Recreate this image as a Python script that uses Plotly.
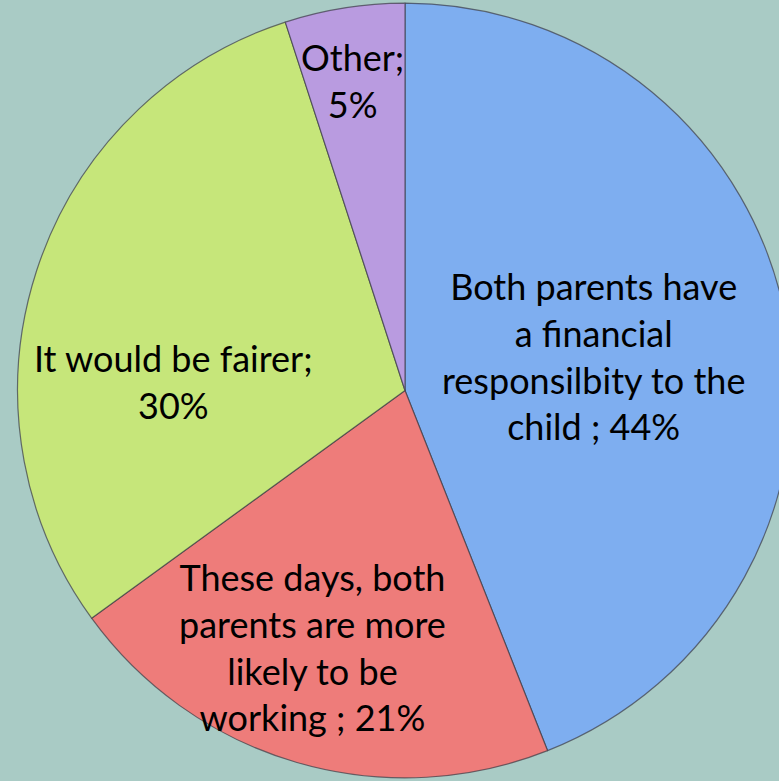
import plotly.graph_objects as go

labels = ["Both parents have a financial responsilbity to the child",
          "These days, both parents are more likely to be working",
          "It would be fairer",
          "Other"]
values = [44, 21, 30, 5]
label_texts = ["Both parents have<br>a financial<br>responsilbity to the<br>child ; 44%",
               "These days, both<br>parents are more<br>likely to be<br>working ; 21%",
               "It would be fairer;<br>30%",
               "Other;<br>5%"]
colors = ["#7eaef0", "#ee7c7a", "#c6e67a", "#b99be0"]

W, H = 810, 781
label_px = [(593, 356), (312, 647), (173, 381), (352, 81)]

fig = go.Figure(go.Pie(
    labels=labels, values=values, sort=False, direction="clockwise", rotation=0,
    marker=dict(colors=colors, line=dict(color="rgba(60,60,70,0.7)", width=1.2)),
    textinfo="none", hoverinfo="label+percent", showlegend=False,
    domain=dict(x=[0.005, 0.995], y=[0.004, 0.996]),
))

for t, (px, py) in zip(label_texts, label_px):
    fig.add_annotation(x=px / W, y=1 - py / H, xref="paper", yref="paper",
                       text=t, showarrow=False, xanchor="center", yanchor="middle",
                       font=dict(family="Lato, sans-serif", size=36, color="black"))

fig.update_layout(width=W, height=H, margin=dict(l=0, r=0, t=0, b=0),
                  paper_bgcolor="#a9cbc5", plot_bgcolor="#a9cbc5")

fig.write_html("out.html", post_script="document.documentElement.style.overflow='hidden';document.body.style.overflow='hidden';document.body.style.margin='0';")
